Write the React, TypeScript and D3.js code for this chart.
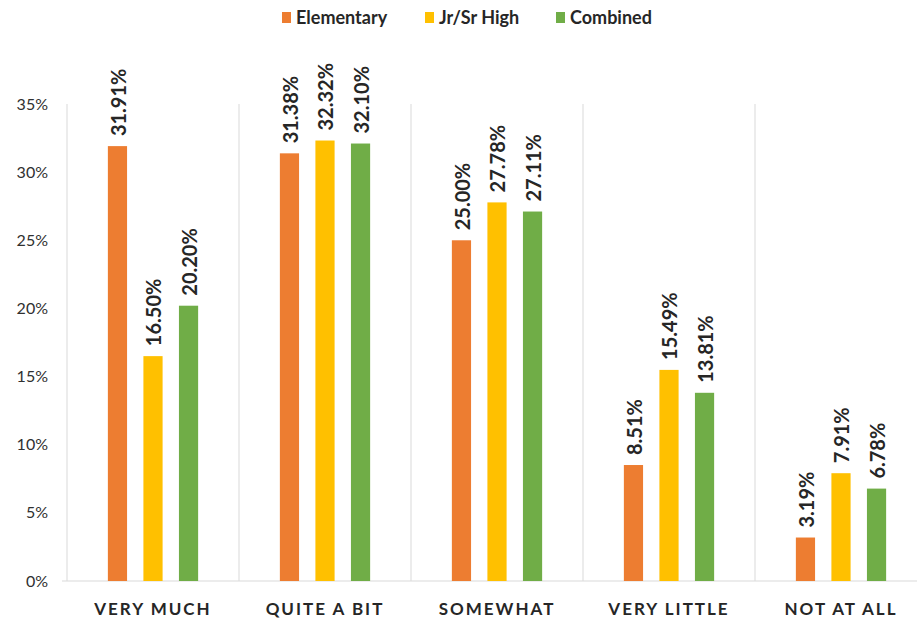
import React, { useRef, useEffect } from 'react';
import * as d3 from 'd3';

const categories = ['VERY MUCH', 'QUITE A BIT', 'SOMEWHAT', 'VERY LITTLE', 'NOT AT ALL'];
const seriesNames = ['Elementary', 'Jr/Sr High', 'Combined'];
const elementary = [31.91, 31.38, 25.0, 8.51, 3.19];
const jrSrHigh = [16.5, 32.32, 27.78, 15.49, 7.91];
const combined = [20.2, 32.1, 27.11, 13.81, 6.78];
const yTicks = [0, 5, 10, 15, 20, 25, 30, 35];
const colors = ['#ED7D31', '#FFC000', '#70AD47'];

const W = 917;
const H = 619;

const App = () => {
  const ref = useRef<SVGSVGElement>(null);

  useEffect(() => {
    const values = [elementary, jrSrHigh, combined];
    const margin = { top: 104, left: 67, bottom: 38 };

    const x0 = d3.scaleBand()
      .domain(categories)
      .range([margin.left, margin.left + 172 * categories.length])
      .padding(0);

    const x1 = d3.scaleBand()
      .domain(seriesNames)
      .range([0, x0.bandwidth()])
      .paddingInner(0.46)
      .paddingOuter(1.15);

    const y = d3.scaleLinear()
      .domain([0, 35])
      .range([H - margin.bottom, margin.top]);

    const svg = d3.select(ref.current);
    svg.selectAll('*').remove();

    // vertical separators
    svg.append('g')
      .selectAll('line')
      .data(categories)
      .join('line')
      .attr('x1', d => x0(d)!)
      .attr('x2', d => x0(d)!)
      .attr('y1', y(35))
      .attr('y2', y(0))
      .attr('stroke', '#d9d9d9')
      .attr('stroke-width', 1);

    // baseline
    svg.append('line')
      .attr('x1', margin.left - 5)
      .attr('x2', W)
      .attr('y1', y(0))
      .attr('y2', y(0))
      .attr('stroke', '#d9d9d9')
      .attr('stroke-width', 1.2);

    // y ticks
    svg.append('g')
      .selectAll('text')
      .data(yTicks)
      .join('text')
      .attr('x', 48)
      .attr('y', d => y(d))
      .attr('dy', '0.35em')
      .attr('text-anchor', 'end')
      .attr('font-family', 'Lato')
      .attr('font-size', 16)
      .attr('fill', '#303030')
      .text(d => `${d}%`);

    // category labels
    svg.append('g')
      .selectAll('text')
      .data(categories)
      .join('text')
      .attr('x', d => x0(d)! + x0.bandwidth() / 2)
      .attr('y', 615)
      .attr('text-anchor', 'middle')
      .attr('font-family', 'Lato')
      .attr('font-weight', 'bold')
      .attr('font-size', 17)
      .attr('letter-spacing', 2)
      .attr('fill', '#262626')
      .text(d => d);

    const bars = categories.flatMap((c, i) =>
      seriesNames.map((s, j) => ({ c, s, j, v: values[j][i] })));

    svg.append('g')
      .selectAll('rect')
      .data(bars)
      .join('rect')
      .attr('x', d => x0(d.c)! + x1(d.s)!)
      .attr('y', d => y(d.v))
      .attr('width', x1.bandwidth())
      .attr('height', d => y(0) - y(d.v))
      .attr('fill', d => colors[d.j]);

    svg.append('g')
      .selectAll('text')
      .data(bars)
      .join('text')
      .attr('transform', d =>
        `translate(${x0(d.c)! + x1(d.s)! + x1.bandwidth() / 2 + 1},${y(d.v) - 10}) rotate(-90)`)
      .attr('dy', '0.36em')
      .attr('font-family', 'Lato')
      .attr('font-weight', 'bold')
      .attr('font-size', 20)
      .attr('fill', '#262626')
      .text(d => `${d.v.toFixed(2)}%`);

    // legend
    const legendX = [282, 425, 556];
    const legend = svg.append('g')
      .selectAll('g')
      .data(seriesNames)
      .join('g')
      .attr('transform', (d, i) => `translate(${legendX[i]},18)`);
    legend.append('rect')
      .attr('x', 0)
      .attr('y', -6)
      .attr('width', 9)
      .attr('height', 11)
      .attr('fill', (d, i) => colors[i]);
    legend.append('text')
      .attr('x', 14)
      .attr('y', 0)
      .attr('dy', '0.35em')
      .attr('font-family', 'Lato')
      .attr('font-weight', 'bold')
      .attr('font-size', 18)
      .attr('fill', '#262626')
      .text(d => d);
  }, []);

  return (
    <svg
      ref={ref}
      width={W}
      height={H}
      style={{ position: 'absolute', left: 0, top: 0, background: '#fff' }}
    />
  );
};

export default App;
